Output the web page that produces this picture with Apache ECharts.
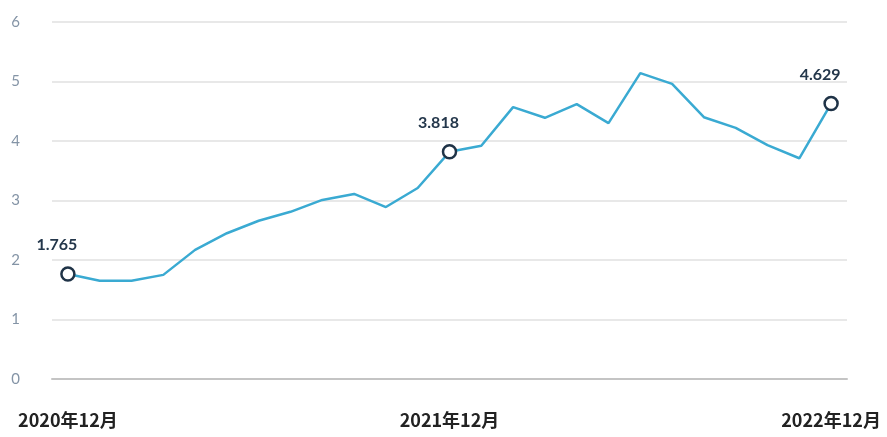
<!DOCTYPE html>
<html>
<head>
<meta charset="utf-8">
<script src="https://cdn.jsdelivr.net/npm/echarts@6/dist/echarts.min.js"></script>
<style>
  html, body { margin: 0; padding: 0; background: #ffffff; }
  #chart { width: 887px; height: 437px; }
</style>
</head>
<body>
<div id="chart"></div>
<script>
// Monthly categories, Dec 2020 through Dec 2022
const months = [
  '2020年12月', '2021年1月', '2021年2月', '2021年3月', '2021年4月', '2021年5月',
  '2021年6月', '2021年7月', '2021年8月', '2021年9月', '2021年10月', '2021年11月',
  '2021年12月', '2022年1月', '2022年2月', '2022年3月', '2022年4月', '2022年5月',
  '2022年6月', '2022年7月', '2022年8月', '2022年9月', '2022年10月', '2022年11月',
  '2022年12月'
];
const values = [
  1.765, 1.65, 1.65, 1.75, 2.17, 2.45, 2.66, 2.81, 3.01, 3.11, 2.89, 3.21,
  3.818, 3.92, 4.57, 4.39, 4.62, 4.30, 5.14, 4.96, 4.40, 4.22, 3.93, 3.71,
  4.629
];
// Points that get a ring marker and a value label
const highlighted = [0, 12, 24];
const yTicks = [0, 1, 2, 3, 4, 5, 6];

const seriesData = values.map((v, i) => {
  if (!highlighted.includes(i)) return { value: v };
  return {
    value: v,
    symbol: 'circle',
    symbolSize: 13,
    itemStyle: { color: '#ffffff', borderColor: '#1f3347', borderWidth: 2.5 },
    label: {
      show: true,
      position: 'top',
      offset: [-11, -8],
      formatter: () => v.toFixed(3),
      color: '#24374b',
      fontSize: 16,
      fontWeight: 'bold',
      fontFamily: 'Lato, "Noto Sans", sans-serif'
    }
  };
});

const chart = echarts.init(document.getElementById('chart'), null, { renderer: 'canvas' });
chart.setOption({
  animation: false,
  backgroundColor: '#ffffff',
  grid: { left: 52, right: 40, top: 22, bottom: 58, containLabel: false },
  xAxis: {
    type: 'category',
    data: months,
    boundaryGap: true,
    axisLine: { show: true, lineStyle: { color: '#c4c4c4', width: 2 } },
    axisTick: { show: false },
    axisLabel: {
      interval: (idx) => highlighted.includes(idx),
      margin: 32,
      color: '#222222',
      fontSize: 18,
      fontWeight: 'bold',
      fontFamily: '"Noto Sans CJK SC", sans-serif'
    },
    splitLine: { show: false }
  },
  yAxis: {
    type: 'value',
    min: yTicks[0],
    max: yTicks[yTicks.length - 1],
    interval: 1,
    axisLine: { show: false },
    axisTick: { show: false },
    axisLabel: {
      margin: 32,
      color: '#8494a6',
      fontSize: 15,
      fontFamily: 'Lato, "Noto Sans", sans-serif'
    },
    splitLine: { show: true, lineStyle: { color: '#e8e8e8', width: 2 } }
  },
  series: [{
    type: 'line',
    data: seriesData,
    symbol: 'none',
    showSymbol: true,
    showAllSymbol: true,
    lineStyle: { color: '#3aaad2', width: 2.5 },
    itemStyle: { color: '#3aaad2' },
    z: 3
  }]
});
</script>
</body>
</html>
